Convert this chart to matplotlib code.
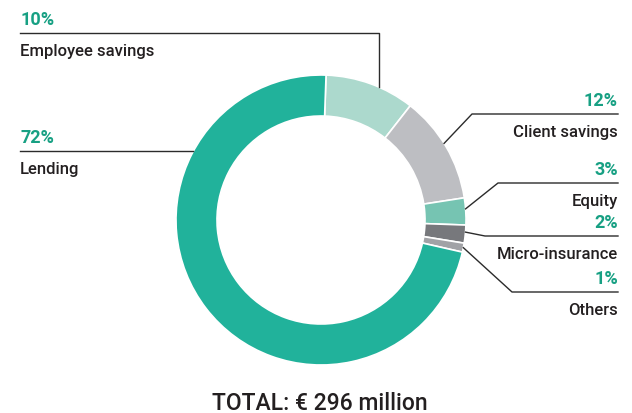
import numpy as np
import matplotlib
matplotlib.use("Agg")
import matplotlib.pyplot as plt

# Portfolio split, clockwise from the top
labels = ["Employee savings", "Client savings", "Equity", "Micro-insurance", "Others", "Lending"]
shares = [10, 12, 3, 2, 1, 72]
colors = ["#acd9cd", "#bdbec2", "#76c4b2", "#77787c", "#a1a2a6", "#21b29b"]
total_label = "TOTAL: € 296 million"

W, H = 632, 414
GREEN = "#17a083"
INK = "#231f20"
LINE = "#2b2b2b"

plt.rcParams["font.family"] = ["Roboto", "DejaVu Sans"]

fig = plt.figure(figsize=(W / 100, H / 100), dpi=100)
ax = fig.add_axes([0, 0, 1, 1])

# pixel-style y (from top) -> data y
def Y(py):
    return H - py

cx, cy, R, ring = 321, Y(221), 145, 41
start = 88

wedges, _ = ax.pie(shares, colors=colors, startangle=start, counterclock=False,
                   center=(cx, cy), radius=R, frame=True,
                   wedgeprops=dict(width=ring, edgecolor="white", linewidth=1.2))
ax.set_xlim(0, W)
ax.set_ylim(0, H)
ax.set_aspect("equal")
ax.axis("off")

# mid angle of each wedge (degrees, math convention)
bounds = start - np.cumsum([0] + shares) * 3.6
mids = (bounds[:-1] + bounds[1:]) / 2

def ring_point(angle):
    a = np.deg2rad(angle)
    return cx + R * np.cos(a), cy + R * np.sin(a)

def label_block(x, y_line, pct, name, ha):
    ax.text(x, Y(y_line - 9), f"{pct}%", color=GREEN, fontsize=13,
            fontweight="bold", ha=ha, va="baseline")
    ax.text(x, Y(y_line + 22), name, color=INK, fontsize=12, fontweight="medium",
            ha=ha, va="baseline")

lw = 1.0
# Employee savings: horizontal rule then drop to the ring
vx = 379
vy = cy + np.sqrt(R ** 2 - (vx - cx) ** 2)
ax.plot([20, vx, vx], [Y(34), Y(34), vy], color=LINE, lw=lw)
label_block(20, 34, shares[0], labels[0], "left")

# Lending: horizontal rule meeting the ring on the left
ly = Y(152)
lx = cx - np.sqrt(R ** 2 - (ly - cy) ** 2)
ax.plot([20, lx], [ly, ly], color=LINE, lw=lw)
label_block(20, 152, shares[5], labels[5], "left")

# right-hand labels: (wedge index, rule y, elbow x, attach angle offset)
right = [(1, 115, 472, 1.5), (2, 184, 498, 1.0), (3, 237, 485, 0.8), (4, 293, 512, 0.0)]
for i, ry, ex, off in right:
    px, py = ring_point(mids[i] + off)
    ax.plot([px, ex, 618], [py, Y(ry), Y(ry)], color=LINE, lw=lw)
    label_block(618, ry, shares[i], labels[i], "right")

ax.text(320, Y(410), total_label, color=INK, fontsize=16.5, fontweight="medium",
        ha="center", va="baseline")

fig.savefig("out.png", dpi=100)
